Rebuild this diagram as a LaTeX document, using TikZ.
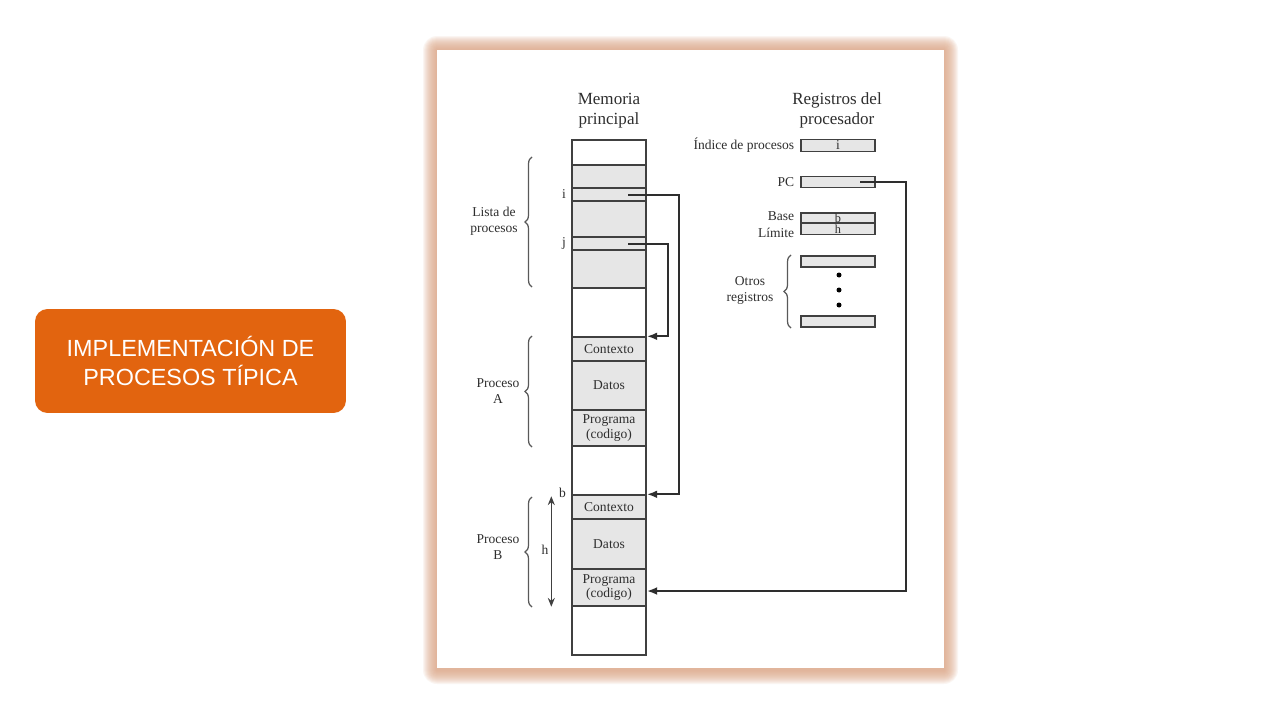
\documentclass[tikz,border=0pt]{standalone}
\usepackage{fontspec}
\setmainfont{Liberation Serif}
\newfontfamily\boxfont{Liberation Sans}
\usetikzlibrary{arrows.meta,decorations.pathreplacing,positioning}

\definecolor{slideorange}{HTML}{E2640F}
\definecolor{framepeach}{HTML}{DDA584}
\definecolor{cellgray}{HTML}{E6E6E6}
\definecolor{inkgray}{HTML}{2E2E2E}

\tikzset{
  cell/.style={draw=black!75, line width=0.8pt, fill=cellgray, minimum width=1.48cm,
    inner sep=0pt, font=\fontsize{7.7}{8.5}\selectfont, align=center, text=inkgray},
  reg/.style={draw=black!75, line width=0.7pt, fill=cellgray, minimum width=1.48cm,
    minimum height=0.23cm, inner sep=0pt, font=\fontsize{7.7}{8}\selectfont, text=inkgray},
  lbl/.style={font=\fontsize{7.7}{9.1}\selectfont, align=center, text=inkgray},
  head/.style={font=\fontsize{9.7}{11.3}\selectfont, align=center, text=inkgray},
  link/.style={draw=inkgray, line width=1.3pt},
  tip/.style={-{Latex[length=6pt,width=4.5pt]}},
  brace/.style={draw=black!65, line width=0.7pt, decorate,
    decoration={brace, amplitude=0.14cm}}
}

\begin{document}
\begin{tikzpicture}[x=0.02cm, y=-0.02cm]

    % Slide area
    \useasboundingbox (0,0) rectangle (1280,720);
    \fill[white] (0,0) rectangle (1280,720);

    % Title box on the left
    \node[fill=slideorange, rounded corners=0.25cm, minimum width=6.22cm, minimum height=2.08cm,
      text=white, align=center, font=\boxfont\fontsize{13.3}{16.4}\selectfont]
      (title) at (190.5,361) {IMPLEMENTACIÓN DE\\PROCESOS TÍPICA};

    % Soft shadow round the figure frame
    \foreach \r in {1,...,14}
      \fill[framepeach, opacity=0.1, rounded corners=\r*0.02cm]
        (437-\r,50-\r) rectangle (944+\r,668+\r+2);
    \fill[white] (437,50) rectangle (944,668);

    % Main memory column
    \node[draw=black!75, line width=0.8pt, minimum width=1.48cm, minimum height=10.3cm,
      inner sep=0pt] (mem) at (609,397.5) {};
    \node[head] (memHead) at (609,111) {Memoria\\principal};

    % Process list block with rows i and j
    \node[cell, minimum height=2.46cm] (lista) at (609,226.5) {};
    \node[cell, minimum height=0.26cm] (rowI) at (609,194.5) {};
    \node[cell, minimum height=0.26cm] (rowJ) at (609,243.5) {};
    \node[lbl, left, inner sep=0.1cm] at (rowI.west) {i};
    \node[lbl, left, inner sep=0.1cm] at (rowJ.west) {j};

    % Process A
    \node[cell, minimum height=0.48cm] (ctxA) at (609,349) {Contexto};
    \node[cell, minimum height=0.98cm] (datA) at (609,385.5) {Datos};
    \node[cell, minimum height=0.72cm] (progA) at (609,428) {Programa\\(codigo)};

    % Process B
    \node[cell, minimum height=0.48cm] (ctxB) at (609,507) {Contexto};
    \node[cell, minimum height=1.0cm] (datB) at (609,544) {Datos};
    \node[cell, minimum height=0.74cm] (progB) at (609,587.5) {Programa\\(codigo)};
    \node[lbl, left, inner sep=0.1cm] at ([yshift=0.02cm]ctxB.north west) {b};

    % Base and length of process B
    \draw[black!75, line width=0.8pt, {Stealth[length=5pt,width=4pt]}-{Stealth[length=5pt,width=4pt]}]
      ([xshift=-0.4cm, yshift=-0.04cm]ctxB.north west) -- ([xshift=-0.4cm]progB.south west);
    \node[lbl] at (545,550) {h};

    % Braces on the left of the memory
    \draw[brace] (532,287) -- (532,157);
    \node[lbl] (listaLbl) at (494,221) {Lista de\\procesos};
    \draw[brace] (532,447) -- (532,336);
    \node[lbl] (procA) at (498,391) {Proceso\\A};
    \draw[brace] (532,607) -- (532,497);
    \node[lbl] (procB) at (498,547) {Proceso\\B};

    % Processor registers
    \node[head] (regHead) at (837,110) {Registros del\\procesador};
    \node[reg] (regIdx) at (838,145.5) {i};
    \node[reg] (regPC) at (838,182) {};
    \node[reg, minimum height=0.2cm, font=\fontsize{7}{7}\selectfont] (regBase) at (838,218) {b};
    \node[reg, minimum height=0.22cm, font=\fontsize{7}{7}\selectfont] (regLim) at (838,229) {h};
    \node[reg, minimum height=0.22cm] (regO1) at (838,261.5) {};
    \node[reg, minimum height=0.22cm] (regO2) at (838,321.5) {};
    \node[lbl, left=0pt] at (regIdx.west) {Índice de procesos};
    \node[lbl, left=0pt] at (regPC.west) {PC};
    \node[lbl, left=0pt] at ([yshift=0.03cm]regBase.west) {Base};
    \node[lbl, left=0pt] at ([yshift=-0.07cm]regLim.west) {Límite};

    % Dots between the other registers
    \fill[black] (839,275) circle (0.05cm);
    \fill[black] (839,290) circle (0.05cm);
    \fill[black] (839,305) circle (0.05cm);

    % Brace for the other registers
    \draw[brace] (791,328) -- (791,255);
    \node[lbl] (otros) at (750,290) {Otros\\registros};

    % Pointers
    \coordinate (iP) at (628,195);
    \coordinate (jP) at (628,244);
    \coordinate (pcP) at (860,182);
    \draw[link, tip] (iP) -- (679,195) |- (ctxB.north east);
    \draw[link, tip] (jP) -- (668,244) |- (ctxA.north east);
    \draw[link, tip] (pcP) -- (906,182) |- ([yshift=-0.07cm]progB.east);

\end{tikzpicture}
\end{document}
